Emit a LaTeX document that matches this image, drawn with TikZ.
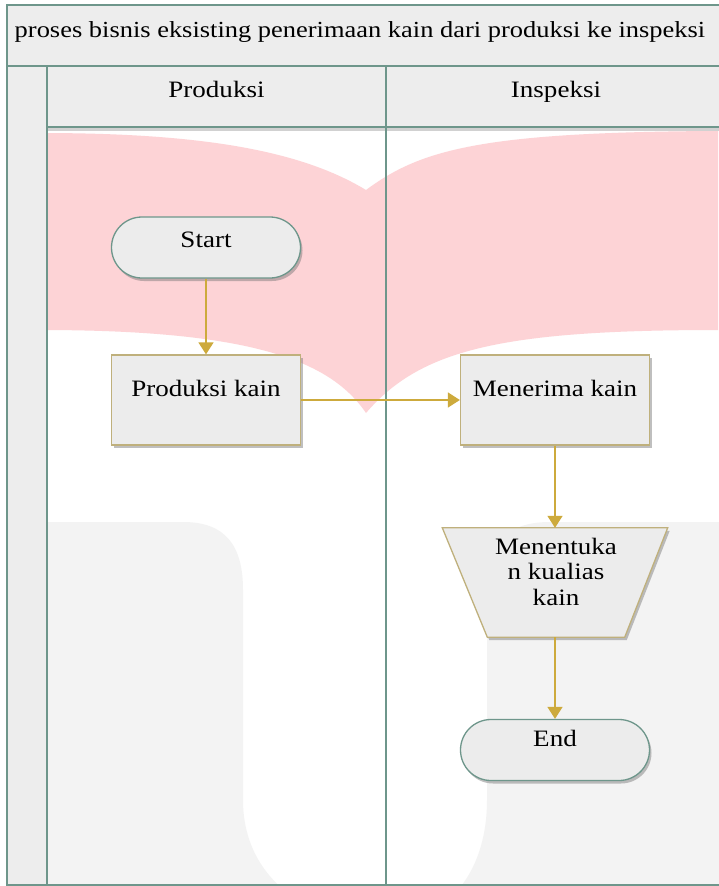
\documentclass[tikz,border=0pt]{standalone}
\usepackage{fontspec}
\setmainfont{Liberation Serif}[FakeStretch=1.15]
\usetikzlibrary{shapes.misc,arrows.meta,shadows}
\definecolor{framec}{HTML}{6E968B}
\definecolor{panel}{HTML}{EDEDED}
\definecolor{boxfill}{HTML}{ECECEC}
\definecolor{tanc}{HTML}{BFB07C}
\definecolor{goldc}{HTML}{CDAA3C}
\definecolor{pinkwm}{HTML}{FDD3D6}
\definecolor{graywm}{HTML}{F3F3F3}
\begin{document}
\begin{tikzpicture}[x=1pt,y=-1pt,
  txt/.style={font=\fontsize{23.5}{25}\selectfont, inner sep=0pt, anchor=base, text=black},
  shad/.style={drop shadow={shadow xshift=2pt,shadow yshift=-3pt,opacity=0.45,fill=black!55}},
  term/.style={rounded rectangle, draw=framec, line width=1.3pt, fill=boxfill, minimum width=189pt, minimum height=61pt, inner sep=0pt, shad},
  proc/.style={rectangle, draw=tanc, line width=1.3pt, fill=boxfill, minimum width=189pt, minimum height=90pt, inner sep=0pt, shad},
  flow/.style={draw=goldc, line width=1.5pt, -{Triangle[width=15pt,length=12pt]}},
  lanes/.style={draw=framec, line width=2pt}]
\useasboundingbox (0,0) rectangle (718,886);
\fill[white] (0,0) rectangle (718,886);
% watermark
\fill[pinkwm] (40,133) .. controls (200,133) and (300,150) .. (366,190)
  .. controls (420,150) and (480,132) .. (718,131) -- (718,330)
  .. controls (500,330) and (420,350) .. (366,413)
  .. controls (330,360) and (250,330) .. (40,330) -- cycle;
\fill[graywm] (40,522) -- (183,522) .. controls (225,522) and (243,545) .. (243,590)
  -- (243,800) .. controls (243,840) and (260,870) .. (284,890) -- (40,890) -- cycle;
\fill[graywm] (724,522) -- (550,522) .. controls (505,522) and (487,545) .. (487,590)
  -- (487,800) .. controls (487,840) and (475,870) .. (458,890) -- (724,890) -- cycle;
% pool and lanes
\fill[panel] (7,5) rectangle (724,127);
\fill[panel] (7,66) rectangle (47,885);
\fill[black,opacity=0.18] (47,127) rectangle (724,131);
\draw[lanes] (7,5) rectangle (724,885);
\draw[lanes] (7,66) -- (724,66);
\draw[lanes] (47,66) -- (47,885);
\draw[lanes] (47,127) -- (724,127);
\draw[lanes] (386,66) -- (386,885);
\node[txt, font=\fontsize{23}{25}\selectfont] (title) at (360,37) {proses bisnis eksisting penerimaan kain dari produksi ke inspeksi};
\node[txt] (hprod) at (216.5,97) {Produksi};
\node[txt] (hins) at (556,97) {Inspeksi};
% flow shapes
\node[term] (start) at (206,247.5) {};
\node[txt] (tstart) at (206,247) {Start};
\node[proc] (prod) at (206,400) {};
\node[txt] (tprod) at (206,396) {Produksi kain};
\node[proc] (terima) at (555,400) {};
\node[txt] (tterima) at (555,396) {Menerima kain};
\node[minimum width=225pt, minimum height=109pt, inner sep=0pt] (tentu) at (555,582.5) {};
\path[fill=boxfill, draw=tanc, line width=1.3pt, shad] (tentu.north west) -- (tentu.north east)
  -- ([xshift=-43pt]tentu.south east) -- ([xshift=45pt]tentu.south west) -- cycle;
\node[txt] (tl1) at (556,554) {Menentuka};
\node[txt] (tl2) at (556,579.5) {n kualias};
\node[txt] (tl3) at (556,605) {kain};
\node[term] (end) at (555,750) {};
\node[txt] (tend) at (555,746) {End};
% connectors
\draw[flow] (start) -- (prod);
\draw[flow] (prod) -- (terima);
\draw[flow] (terima) -- (tentu);
\draw[flow] (tentu) -- (end);
\end{tikzpicture}
\end{document}
